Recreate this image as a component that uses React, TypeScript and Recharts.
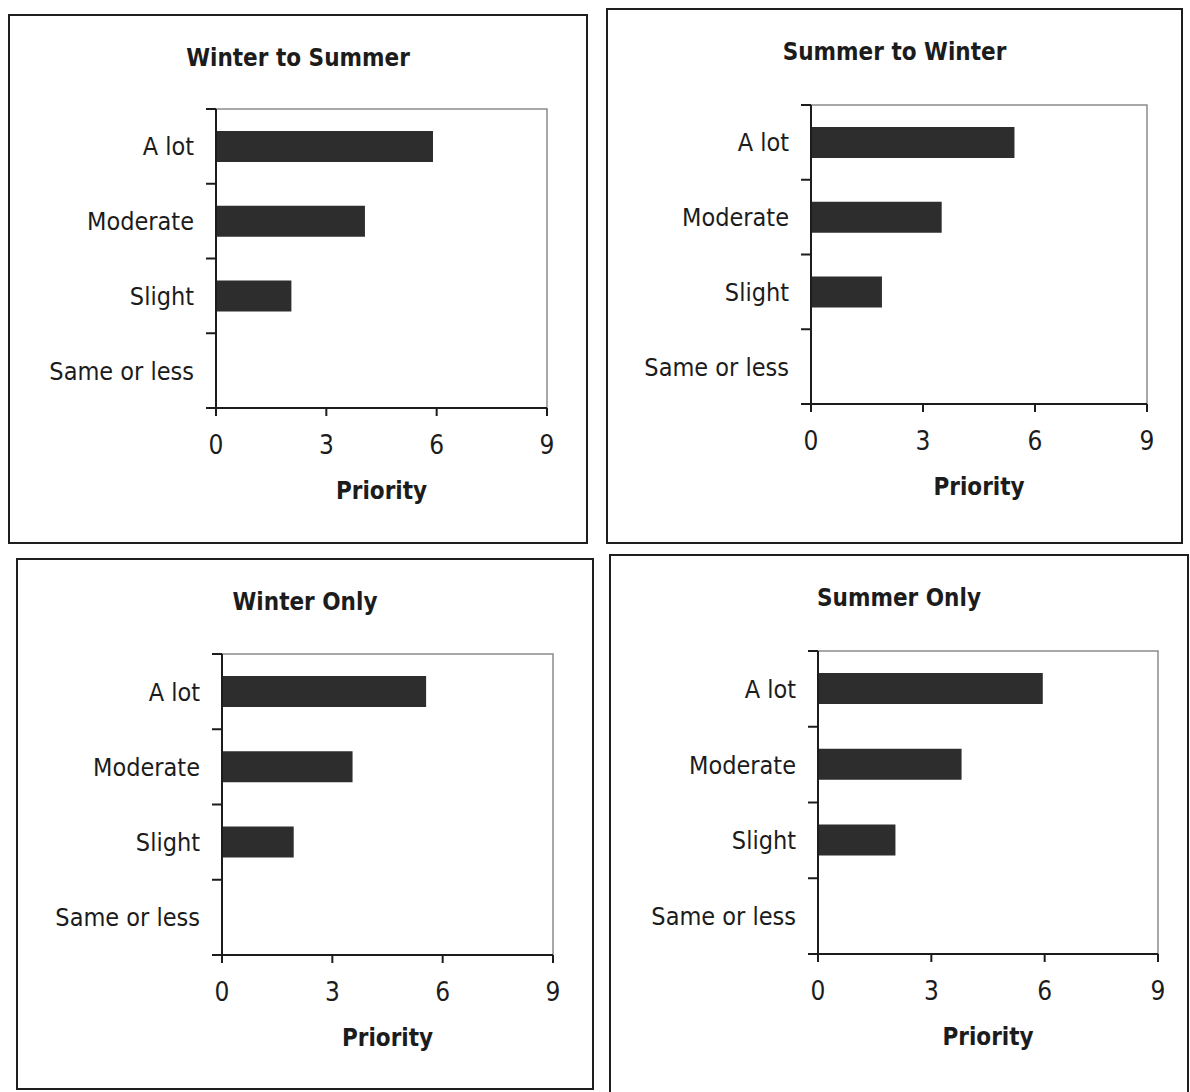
import { BarChart, Bar, XAxis, YAxis, ReferenceArea, Label } from "recharts";

const categories = ["A lot", "Moderate", "Slight", "Same or less"];
const winterToSummer = [5.9, 4.05, 2.05, 0];
const summerToWinter = [5.45, 3.5, 1.9, 0];
const winterOnly = [5.55, 3.55, 1.95, 0];
const summerOnly = [5.95, 3.8, 2.05, 0];
const priorityTicks = [0, 3, 6, 9];

const font = "'DejaVu Sans Condensed', 'Liberation Sans Narrow', sans-serif";
const ink = "#1c1c1c";
const LABEL_GAP = 22;
const BOUNDARY_TICK = 10;
const AXIS_HEIGHT = 110;

type Box = { left: number; top: number; width: number; height: number };
type Plot = { left: number; top: number; right: number; bottom: number };

// category labels sit in the middle of each band, tick marks go on the band edges
function LevelTick(props: any) {
  const { x, y, payload, index, visibleTicksCount } = props;
  const half = payload?.offset ?? 0;
  const ax = x + LABEL_GAP;
  return (
    <g>
      <text x={x} y={y} dy="0.36em" textAnchor="end" fill={ink} fontSize={25} fontFamily={font}>
        {payload.value}
      </text>
      <line x1={ax - BOUNDARY_TICK} x2={ax} y1={y - half} y2={y - half} stroke={ink} strokeWidth={2} />
      {index === visibleTicksCount - 1 && (
        <line x1={ax - BOUNDARY_TICK} x2={ax} y1={y + half} y2={y + half} stroke={ink} strokeWidth={2} />
      )}
    </g>
  );
}

function Panel({ title, values, box, plot }: { title: string; values: number[]; box: Box; plot: Plot }) {
  const rows = categories.map((level, i) => ({ level, priority: values[i] }));
  const w = box.width - 4;
  const h = box.height - 4;
  const ox = box.left + 2;
  const oy = box.top + 2;
  const margin = {
    top: plot.top - oy,
    right: w - (plot.right - ox),
    left: 0,
    bottom: h - (plot.bottom - oy) - AXIS_HEIGHT,
  };
  return (
    <div
      style={{
        position: "absolute",
        left: box.left,
        top: box.top,
        width: box.width,
        height: box.height,
        border: "2px solid #1e1e1e",
        boxSizing: "border-box",
        background: "#fff",
      }}
    >
      <div
        style={{
          position: "absolute",
          left: 0,
          right: 0,
          top: 30,
          lineHeight: "24px",
          textAlign: "center",
          fontFamily: font,
          fontWeight: "bold",
          fontSize: 24,
          color: ink,
        }}
      >
        {title}
      </div>
      <BarChart layout="vertical" width={w} height={h} data={rows} margin={margin}>
        <ReferenceArea yAxisId="cat" x1={0} x2={9} fill="none" stroke="#8c8c8c" strokeWidth={1.5} ifOverflow="visible" />
        <XAxis
          type="number"
          dataKey="priority"
          domain={[0, 9]}
          ticks={priorityTicks}
          interval={0}
          height={AXIS_HEIGHT}
          tickSize={8}
          tickMargin={20}
          axisLine={{ stroke: ink, strokeWidth: 2 }}
          tickLine={{ stroke: ink, strokeWidth: 2 }}
          tick={{ fill: ink, fontSize: 26, fontFamily: font }}
        >
          <Label
            value="Priority"
            position="insideBottom"
            offset={19}
            fill={ink}
            fontSize={24}
            fontWeight="bold"
            fontFamily={font}
          />
        </XAxis>
        <YAxis
          yAxisId="cat"
          type="category"
          dataKey="level"
          width={plot.left - ox}
          tickSize={0}
          tickMargin={LABEL_GAP}
          tickLine={false}
          interval={0}
          axisLine={{ stroke: ink, strokeWidth: 2 }}
          tick={<LevelTick />}
        />
        <Bar yAxisId="cat" dataKey="priority" fill="#2d2d2d" barSize={31} isAnimationActive={false} />
      </BarChart>
    </div>
  );
}

export default function App() {
  return (
    <div style={{ position: "absolute", left: 0, top: 0, width: 1190, height: 1092, background: "#fff", overflow: "hidden" }}>
      <Panel
        title="Winter to Summer"
        values={winterToSummer}
        box={{ left: 8, top: 14, width: 580, height: 530 }}
        plot={{ left: 216, top: 109, right: 547, bottom: 408 }}
      />
      <Panel
        title="Summer to Winter"
        values={summerToWinter}
        box={{ left: 606, top: 8, width: 577, height: 536 }}
        plot={{ left: 811, top: 105, right: 1147, bottom: 404 }}
      />
      <Panel
        title="Winter Only"
        values={winterOnly}
        box={{ left: 16, top: 558, width: 578, height: 532 }}
        plot={{ left: 222, top: 654, right: 553, bottom: 955 }}
      />
      <Panel
        title="Summer Only"
        values={summerOnly}
        box={{ left: 609, top: 554, width: 580, height: 545 }}
        plot={{ left: 818, top: 651, right: 1158, bottom: 954 }}
      />
    </div>
  );
}
